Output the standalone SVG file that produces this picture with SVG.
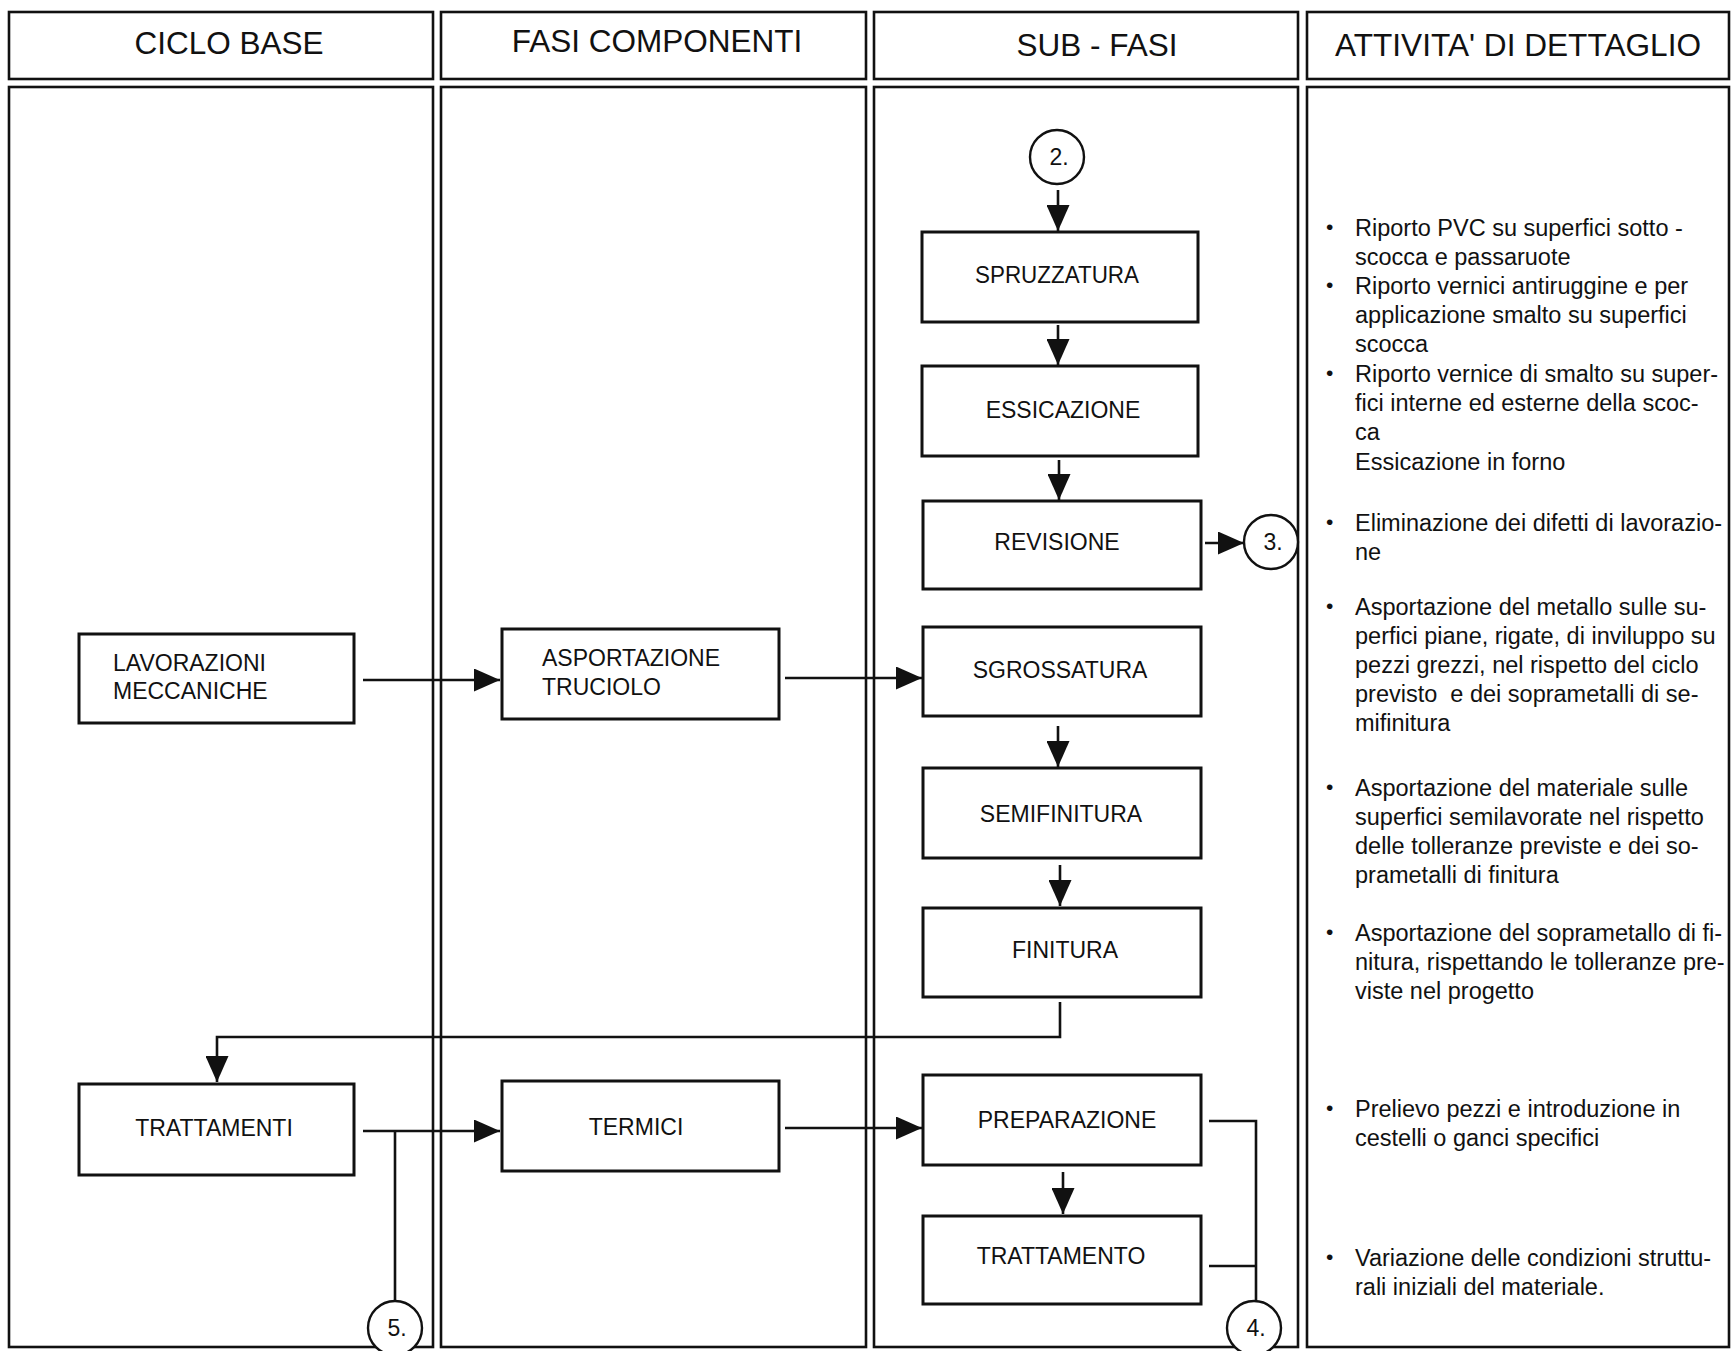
<svg xmlns="http://www.w3.org/2000/svg" width="1731" height="1351" viewBox="0 0 1731 1351">
<defs>
<style>
.col{fill:none;stroke:#111;stroke-width:2.6}
.box{fill:#fff;stroke:#111;stroke-width:3}
.ln{fill:none;stroke:#111;stroke-width:2.6}
.cir{fill:#fff;stroke:#111;stroke-width:2.4}
.hd{font-family:"Liberation Sans",Arial,sans-serif;font-size:31.5px;fill:#111;text-anchor:middle}
.nt{font-family:"Liberation Sans",Arial,sans-serif;font-size:23px;fill:#111}
.c{text-anchor:middle}
.ct{font-family:"Liberation Sans",Arial,sans-serif;font-size:23px;fill:#111;text-anchor:middle}
.tx{font-family:"Liberation Sans",Arial,sans-serif;font-size:23.5px;fill:#111;white-space:pre}
.bl{font-family:"Liberation Sans",Arial,sans-serif;font-size:21px;fill:#111}
</style>
<marker id="ah" viewBox="0 0 26 23" refX="26" refY="11.5" markerWidth="26" markerHeight="23" markerUnits="userSpaceOnUse" orient="auto">
<path d="M0,0 L26,11.5 L0,23 z" fill="#111"/>
</marker>
</defs>
<rect width="1731" height="1351" fill="#fff"/>

<g id="columns">
<rect class="col" x="9" y="12" width="424" height="67"/>
<rect class="col" x="441" y="12" width="425" height="67"/>
<rect class="col" x="874" y="12" width="424" height="67"/>
<rect class="col" x="1307" y="12" width="422" height="67"/>
<rect class="col" x="9" y="87" width="424" height="1260"/>
<rect class="col" x="441" y="87" width="425" height="1260"/>
<rect class="col" x="874" y="87" width="424" height="1260"/>
<rect class="col" x="1307" y="87" width="422" height="1260"/>
<text class="hd" x="229" y="54">CICLO BASE</text>
<text class="hd" x="657" y="52">FASI COMPONENTI</text>
<text class="hd" x="1097" y="56">SUB - FASI</text>
<text class="hd" x="1518" y="56" textLength="366" lengthAdjust="spacingAndGlyphs">ATTIVITA' DI DETTAGLIO</text>
</g>

<g id="connectors">
<line class="ln" x1="1058" y1="190" x2="1058" y2="231" marker-end="url(#ah)"/>
<line class="ln" x1="1058" y1="325" x2="1058" y2="365" marker-end="url(#ah)"/>
<line class="ln" x1="1059" y1="460" x2="1059" y2="500" marker-end="url(#ah)"/>
<line class="ln" x1="1205" y1="543" x2="1244" y2="543" marker-end="url(#ah)"/>
<line class="ln" x1="363" y1="680" x2="500" y2="680" marker-end="url(#ah)"/>
<line class="ln" x1="785" y1="678" x2="922" y2="678" marker-end="url(#ah)"/>
<line class="ln" x1="1058" y1="726" x2="1058" y2="767" marker-end="url(#ah)"/>
<line class="ln" x1="1060" y1="865" x2="1060" y2="906" marker-end="url(#ah)"/>
<path class="ln" d="M1060,1002 V1037 H217 V1082" marker-end="url(#ah)"/>
<line class="ln" x1="363" y1="1131" x2="500" y2="1131" marker-end="url(#ah)"/>
<line class="ln" x1="395" y1="1131" x2="395" y2="1301"/>
<line class="ln" x1="785" y1="1128" x2="922" y2="1128" marker-end="url(#ah)"/>
<line class="ln" x1="1063" y1="1172" x2="1063" y2="1214" marker-end="url(#ah)"/>
<path class="ln" d="M1209,1121 H1256 V1301 M1209,1266 H1256"/>
</g>

<g id="n-c2"><circle class="cir" cx="1057" cy="157" r="27"/><text class="ct" x="1059" y="165">2.</text></g>
<g id="n-c3"><circle class="cir" cx="1271" cy="542" r="27"/><text class="ct" x="1273" y="550">3.</text></g>
<g id="n-c4"><circle class="cir" cx="1254" cy="1328" r="27"/><text class="ct" x="1256" y="1336">4.</text></g>
<g id="n-c5"><circle class="cir" cx="395" cy="1328" r="27"/><text class="ct" x="397" y="1336">5.</text></g>

<g id="n-lavorazioni"><rect class="box" x="79" y="634" width="275" height="89"/><text class="nt" x="113" y="671">LAVORAZIONI</text><text class="nt" x="113" y="699">MECCANICHE</text></g>
<g id="n-asportazione"><rect class="box" x="502" y="629" width="277" height="90"/><text class="nt" x="542" y="666">ASPORTAZIONE</text><text class="nt" x="542" y="695">TRUCIOLO</text></g>
<g id="n-trattamenti"><rect class="box" x="79" y="1084" width="275" height="91"/><text class="nt c" x="214" y="1136">TRATTAMENTI</text></g>
<g id="n-termici"><rect class="box" x="502" y="1081" width="277" height="90"/><text class="nt c" x="636" y="1135">TERMICI</text></g>

<g id="n-spruzzatura"><rect class="box" x="922" y="232" width="276" height="90"/><text class="nt c" x="1057" y="283" textLength="164" lengthAdjust="spacingAndGlyphs">SPRUZZATURA</text></g>
<g id="n-essicazione"><rect class="box" x="922" y="366" width="276" height="90"/><text class="nt c" x="1063" y="418">ESSICAZIONE</text></g>
<g id="n-revisione"><rect class="box" x="923" y="501" width="278" height="88"/><text class="nt c" x="1057" y="550">REVISIONE</text></g>
<g id="n-sgrossatura"><rect class="box" x="923" y="627" width="278" height="89"/><text class="nt c" x="1060" y="678">SGROSSATURA</text></g>
<g id="n-semifinitura"><rect class="box" x="923" y="768" width="278" height="90"/><text class="nt c" x="1061" y="822">SEMIFINITURA</text></g>
<g id="n-finitura"><rect class="box" x="923" y="908" width="278" height="89"/><text class="nt c" x="1065" y="958">FINITURA</text></g>
<g id="n-preparazione"><rect class="box" x="923" y="1075" width="278" height="90"/><text class="nt c" x="1067" y="1128">PREPARAZIONE</text></g>
<g id="n-trattamento"><rect class="box" x="923" y="1216" width="278" height="88"/><text class="nt c" x="1061" y="1264">TRATTAMENTO</text></g>

<g id="details">
<text class="bl" x="1326" y="234">•</text>
<text class="tx" x="1355" y="236">Riporto PVC su superfici sotto -</text>
<text class="tx" x="1355" y="265">scocca e passaruote</text>
<text class="bl" x="1326" y="292">•</text>
<text class="tx" x="1355" y="294">Riporto vernici antiruggine e per</text>
<text class="tx" x="1355" y="323">applicazione smalto su superfici</text>
<text class="tx" x="1355" y="352">scocca</text>
<text class="bl" x="1326" y="380">•</text>
<text class="tx" x="1355" y="382">Riporto vernice di smalto su super-</text>
<text class="tx" x="1355" y="411">fici interne ed esterne della scoc-</text>
<text class="tx" x="1355" y="440">ca</text>
<text class="tx" x="1355" y="470">Essicazione in forno</text>
<text class="bl" x="1326" y="529">•</text>
<text class="tx" x="1355" y="531">Eliminazione dei difetti di lavorazio-</text>
<text class="tx" x="1355" y="560">ne</text>
<text class="bl" x="1326" y="613">•</text>
<text class="tx" x="1355" y="615">Asportazione del metallo sulle su-</text>
<text class="tx" x="1355" y="644">perfici piane, rigate, di inviluppo su</text>
<text class="tx" x="1355" y="673">pezzi grezzi, nel rispetto del ciclo</text>
<text class="tx" x="1355" y="702">previsto  e dei soprametalli di se-</text>
<text class="tx" x="1355" y="731">mifinitura</text>
<text class="bl" x="1326" y="794">•</text>
<text class="tx" x="1355" y="796">Asportazione del materiale sulle</text>
<text class="tx" x="1355" y="825">superfici semilavorate nel rispetto</text>
<text class="tx" x="1355" y="854">delle tolleranze previste e dei so-</text>
<text class="tx" x="1355" y="883">prametalli di finitura</text>
<text class="bl" x="1326" y="939">•</text>
<text class="tx" x="1355" y="941">Asportazione del soprametallo di fi-</text>
<text class="tx" x="1355" y="970">nitura, rispettando le tolleranze pre-</text>
<text class="tx" x="1355" y="999">viste nel progetto</text>
<text class="bl" x="1326" y="1115">•</text>
<text class="tx" x="1355" y="1117">Prelievo pezzi e introduzione in</text>
<text class="tx" x="1355" y="1146">cestelli o ganci specifici</text>
<text class="bl" x="1326" y="1264">•</text>
<text class="tx" x="1355" y="1266">Variazione delle condizioni struttu-</text>
<text class="tx" x="1355" y="1295">rali iniziali del materiale.</text>
</g>
</svg>
